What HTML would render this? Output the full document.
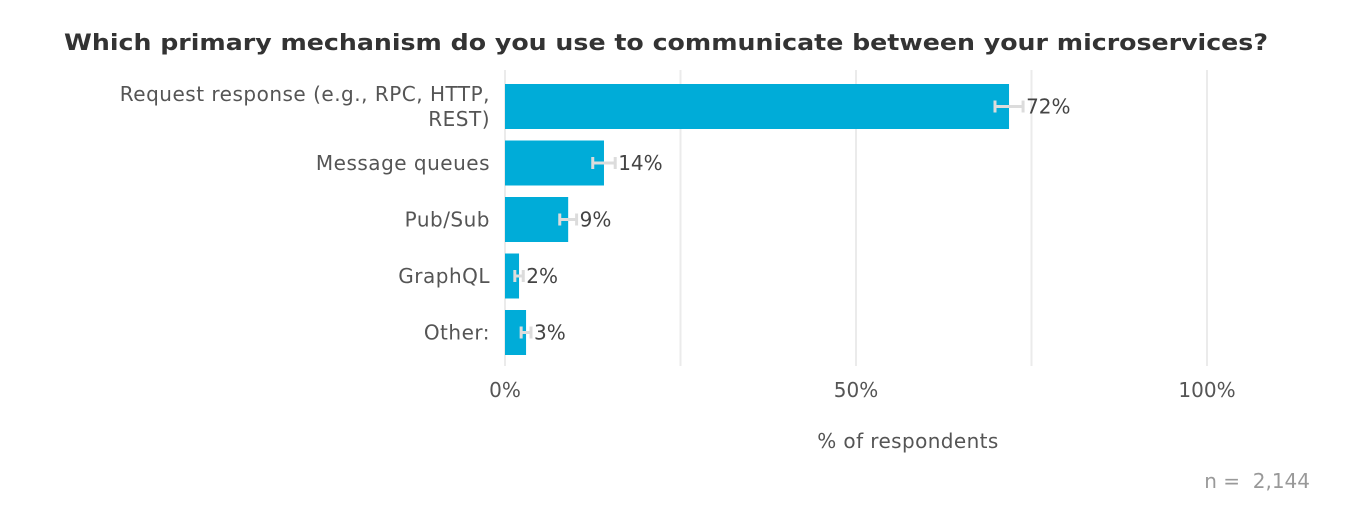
<!DOCTYPE html>
<html><head><meta charset="utf-8"><style>
body{margin:0;background:#fff;font-family:"DejaVu Sans","Liberation Sans",sans-serif}
svg text{font-family:"DejaVu Sans","Liberation Sans",sans-serif}
</style></head><body>
<svg id="chart" width="1349" height="526" xmlns="http://www.w3.org/2000/svg">
<text x="64" y="50" font-size="22" font-weight="bold" fill="#333" textLength="1204" lengthAdjust="spacingAndGlyphs">Which primary mechanism do you use to communicate between your microservices?</text>
<g id="grid"></g><g id="bars"></g>
<text x="908" y="448" font-size="20" letter-spacing="0.4" fill="#555" text-anchor="middle">% of respondents</text>
<text x="1310" y="488" font-size="20" fill="#999" text-anchor="end" xml:space="preserve">n =  2,144</text>
</svg>
<script>
const categories=[["Request response (e.g., RPC, HTTP,","REST)"],["Message queues"],["Pub/Sub"],["GraphQL"],["Other:"]];
const values=[71.8,14.1,9,2,3];
const errors=[2,1.6,1.2,0.6,0.7];
const labels=["72%","14%","9%","2%","3%"];
const ticks=[0,25,50,75,100];
const tickLabels=["0%","","50%","","100%"];
const NS="http://www.w3.org/2000/svg";
const x=v=>505+v*7.02;
const yTop=i=>84+i*56.5;
const bh=45;
function mk(t,a,p){const e=document.createElementNS(NS,t);for(const k in a)e.setAttribute(k,a[k]);p.appendChild(e);return e;}
const g=document.getElementById('grid'),b=document.getElementById('bars');
ticks.forEach((t,i)=>{
 const l=mk('line',{x1:x(t),x2:x(t),y1:70,y2:366,stroke:'#ebebeb','stroke-width':2},g);
 
 
 if(tickLabels[i]){const tx=mk('text',{x:x(t),y:397,'font-size':20,fill:'#555','text-anchor':'middle'},g);tx.textContent=tickLabels[i];
 
 }
});
values.forEach((v,i)=>{
 const y=yTop(i),cy=y+bh/2;
 const r=mk('rect',{x:x(0),y:y,width:x(v)-x(0),height:bh,fill:'#00acd8'},b);
 
 
 const e1=x(v-errors[i]),e2=x(v+errors[i]);
 const eb=mk('g',{stroke:'#dcdcdc','stroke-width':3},b);
 
 
 mk('line',{x1:e1,x2:e2,y1:cy,y2:cy},eb);
 mk('line',{x1:e1,x2:e1,y1:cy-6,y2:cy+6},eb);
 mk('line',{x1:e2,x2:e2,y1:cy-6,y2:cy+6},eb);
 const vl=mk('text',{x:e2+3,y:cy+7,'font-size':20,fill:'#444'},b);vl.textContent=labels[i];
 
 
 const c=categories[i];
 c.forEach((line,j)=>{
  const ty=cy+7+(j-(c.length-1)/2)*25;
  const t=mk('text',{x:490,y:ty,'font-size':20,'letter-spacing':0.5,fill:'#555','text-anchor':'end'},b);t.textContent=line;
  
  
 });
});
</script>
</body></html>
